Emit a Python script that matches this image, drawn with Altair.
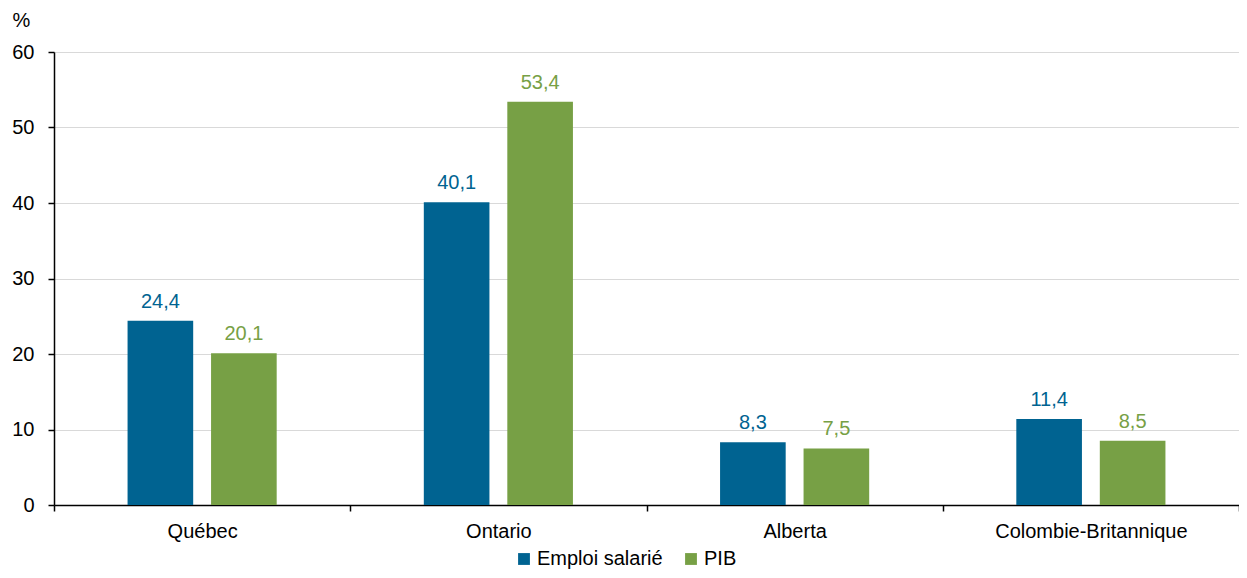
import altair as alt
import pandas as pd

regions = ["Québec", "Ontario", "Alberta", "Colombie-Britannique"]
series = ["Emploi salarié", "PIB"]
emploi = [24.4, 40.1, 8.3, 11.4]
pib = [20.1, 53.4, 7.5, 8.5]
colors = ["#006391", "#77A045"]

rows = []
for i, r in enumerate(regions):
    rows.append({"region": r, "series": series[0], "value": emploi[i]})
    rows.append({"region": r, "series": series[1], "value": pib[i]})
df = pd.DataFrame(rows)
df["label"] = df["value"].map(lambda v: f"{v:.1f}".replace(".", ","))

FONT = "Liberation Sans"
FS = 20

x = alt.X("region:N", sort=regions, title=None,
          scale=alt.Scale(paddingInner=0, paddingOuter=0),
          axis=alt.Axis(labelAngle=0, tickBand="extent", domainColor="black",
                        domainWidth=1.5, tickColor="black", tickWidth=1.5,
                        tickSize=6, labelFontSize=FS, labelColor="black",
                        labelFont=FONT, labelPadding=10, labelLimit=1000,
                        grid=False))
xo = alt.XOffset("series:N", sort=series,
                 scale=alt.Scale(paddingInner=0.214, paddingOuter=0.881))
color = alt.Color("series:N", sort=series,
                  scale=alt.Scale(domain=series, range=colors),
                  legend=alt.Legend(title=None, orient="none", direction="horizontal",
                                    legendX=460, legendY=497, symbolType="square",
                                    symbolSize=140, symbolStrokeWidth=0,
                                    labelFontSize=FS, labelFont=FONT,
                                    labelColor="black", columnPadding=18,
                                    labelOffset=3, labelLimit=1000))

bars = alt.Chart(df).mark_bar().encode(
    x=x, xOffset=xo,
    y=alt.Y("value:Q", title="%",
            scale=alt.Scale(domain=[0, 60], nice=False),
            axis=alt.Axis(values=[0, 10, 20, 30, 40, 50, 60], domainColor="black",
                          domainWidth=1.5, tickColor="black", tickWidth=1.5,
                          tickSize=6, labelFontSize=FS, labelColor="black",
                          labelFont=FONT, labelPadding=14, gridColor="#d9d9d9",
                          gridWidth=1, titleAngle=0, titleX=-42, titleY=-26,
                          titleBaseline="alphabetic",
                          titleFontSize=FS, titleFontWeight="normal",
                          titleFont=FONT, titleColor="black", titleAlign="left")),
    color=color,
)

labels = alt.Chart(df).mark_text(baseline="alphabetic", dy=-13, fontSize=FS, font=FONT).encode(
    x=alt.X("region:N", sort=regions),
    xOffset=alt.XOffset("series:N", sort=series),
    y="value:Q",
    text="label:N",
    color=alt.Color("series:N", sort=series, legend=None),
)

chart = (bars + labels).properties(
    width=1185, height=453,
    autosize=alt.AutoSizeParams(type="none"),
    padding={"left": 46, "top": 44, "right": 0, "bottom": 65},
).configure_view(stroke=None).configure(font=FONT)

chart.save("out.html", embed_options={"renderer": "svg", "actions": False})
